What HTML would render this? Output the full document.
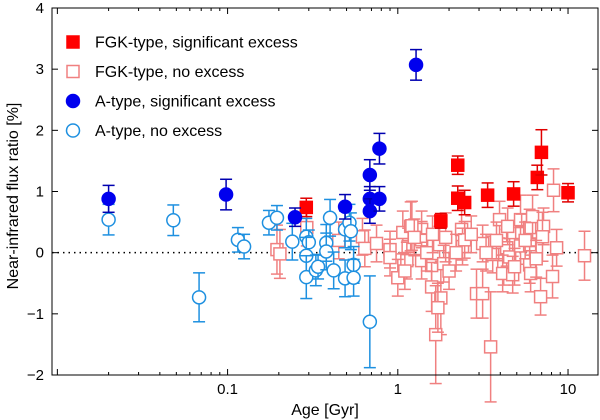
<!DOCTYPE html>
<html><head><meta charset="utf-8"><style>
body{margin:0;background:#fff}
svg{display:block;font-family:"Liberation Sans","DejaVu Sans",sans-serif}
</style></head><body>
<svg id="chart" width="600" height="420"></svg>
<script>
// FGK no excess
const fgkNoAge=[1.07,1.15,1.13,1.19,1.38,1.38,1.38,1.58,1.58,1.76,1.79,1.67,1.86,1.91,2.37,2.40,2.47,2.90,3.15,3.15,3.51,3.61,3.96,4.19,4.36,4.54,4.13,4.73,4.42,5.26,5.34,5.26,4.85,5.95,5.95,5.95,6.03,6.19,6.90,7.18,7.08,8.57,8.11,8.22,12.5,0.195,0.203,0.292,0.62,0.64,0.45,0.90,0.90,1.0,1.21,1.48,1.72,1.25,1.6,2.0,2.7,3.3,3.8,5.6,6.5,2.2,1.1,0.75];
const fgkNoVal=[0.33,0.10,-0.13,0.43,0.38,0.21,-0.13,-0.21,-0.56,0.13,-0.74,-1.34,-0.18,0.25,0.38,0.10,0.21,-0.67,-0.67,0.15,-1.54,-0.03,0.54,-0.23,0.08,-0.07,-0.34,-0.36,0.43,0.54,0.33,0.11,-0.23,0.13,0.41,-0.20,-0.34,0.59,-0.72,0.43,0.26,0.08,-0.39,1.02,-0.05,0.05,-0.02,0.41,0.26,0.07,0.20,0.05,-0.08,-0.41,0.44,0.0,-0.90,0.25,0.3,-0.3,0.3,0.0,0.2,0.2,-0.1,0.0,-0.3,0.15];
const fgkNoErr=[0.35,0.3,0.3,0.4,0.3,0.3,0.3,0.3,0.4,0.3,0.6,0.8,0.3,0.4,0.5,0.3,0.3,0.4,0.4,0.3,0.9,0.3,0.3,0.3,0.3,0.3,0.3,0.3,0.3,0.4,0.3,0.3,0.3,0.3,0.3,0.3,0.3,0.35,0.3,0.3,0.4,0.3,0.35,0.35,0.4,0.4,0.4,0.3,0.3,0.3,0.3,0.3,0.3,0.3,0.4,0.3,0.4,0.3,0.3,0.3,0.3,0.3,0.3,0.3,0.3,0.3,0.3,0.3];
// FGK significant
const fgkSigAge=[0.29,1.79,2.25,2.25,2.47,3.37,4.79,6.6,6.98,10.0];
const fgkSigVal=[0.74,0.52,1.43,0.89,0.82,0.94,0.96,1.23,1.64,0.98];
const fgkSigErr=[0.15,0.12,0.15,0.2,0.2,0.2,0.2,0.2,0.37,0.15];
// A-type no excess
const aNoAge=[0.020,0.048,0.068,0.115,0.125,0.175,0.195,0.24,0.29,0.30,0.29,0.29,0.33,0.34,0.38,0.38,0.40,0.42,0.49,0.52,0.49,0.55,0.55,0.685,0.53];
const aNoVal=[0.54,0.53,-0.73,0.21,0.10,0.49,0.57,0.18,0.26,0.17,-0.05,-0.40,-0.29,-0.23,0.16,0.02,0.57,-0.29,0.38,0.49,-0.42,-0.20,-0.41,-1.13,0.35];
const aNoErr=[0.25,0.25,0.4,0.2,0.2,0.2,0.2,0.3,0.3,0.2,0.3,0.35,0.25,0.2,0.3,0.3,0.3,0.3,0.3,0.3,0.3,0.3,0.3,0.75,0.3];
// A-type significant
const aSigAge=[0.020,0.098,0.249,0.49,0.685,0.685,0.685,0.78,0.78,1.28];
const aSigVal=[0.88,0.95,0.58,0.75,0.88,1.27,0.68,0.88,1.70,3.07];
const aSigErr=[0.22,0.25,0.15,0.2,0.2,0.25,0.2,0.2,0.25,0.25];
const yTicks=[-2,-1,0,1,2,3,4];
const xTicks=[0.1,1,10];
const xTickLabels=["0.1","1","10"];

const NS="http://www.w3.org/2000/svg";
const svg=document.getElementById('chart');
const L=52,R=598,T=8,B=375;
const xMin=Math.log10(0.0093),xMax=Math.log10(15);
function X(a){return L+(Math.log10(a)-xMin)/(xMax-xMin)*(R-L);}
function Y(v){return B-(v+2)/6*(B-T);}
function mk(tag,attrs,parent){const e=document.createElementNS(NS,tag);for(const k in attrs)e.setAttribute(k,attrs[k]);(parent||svg).appendChild(e);return e;}

const zero=mk('line',{x1:L,x2:R,y1:Y(0),y2:Y(0),stroke:'#000','stroke-dasharray':'1.5,4','stroke-width':1.5});



function errbar(g,x,y,e,col){
  mk('line',{x1:x,x2:x,y1:Y(y-e),y2:Y(y+e),stroke:col,'stroke-width':1.5},g);
  mk('line',{x1:x-6,x2:x+6,y1:Y(y-e),y2:Y(y-e),stroke:col,'stroke-width':1.5},g);
  mk('line',{x1:x-6,x2:x+6,y1:Y(y+e),y2:Y(y+e),stroke:col,'stroke-width':1.5},g);
}
function series(name,ages,vals,errs,col,ecol,shape,fill){
  const g=mk('g',{});
  
  
  for(let i=0;i<ages.length;i++){
    const x=X(ages[i]),y=vals[i];
    errbar(g,x,y,errs[i],ecol);
    let m;
    if(shape==='sq') m=mk('rect',{x:x-6,y:Y(y)-6,width:12,height:12,fill:fill,stroke:col,'stroke-width':1.5},g);
    else m=mk('circle',{cx:x,cy:Y(y),r:6.5,fill:fill,stroke:col,'stroke-width':1.5},g);
    
    
  }
}
series('fgk-no-excess',fgkNoAge,fgkNoVal,fgkNoErr,'#f08080','#f08080','sq','#fff');
series('a-no-excess',aNoAge,aNoVal,aNoErr,'#1e90e0','#1e90e0','c','#fff');
series('fgk-significant',fgkSigAge,fgkSigVal,fgkSigErr,'#ff0000','#e00000','sq','#ff0000');
series('a-significant',aSigAge,aSigVal,aSigErr,'#0000ee','#0000b0','c','#0000ee');

const fr=mk('rect',{x:L,y:T,width:R-L,height:B-T,fill:'none',stroke:'#000','stroke-width':1});



yTicks.forEach(v=>{
  const y=Y(v);
  mk('line',{x1:L,x2:L+6,y1:y,y2:y,stroke:'#000'});
  mk('line',{x1:R,x2:R-6,y1:y,y2:y,stroke:'#000'});
  const t=mk('text',{x:L-8,y:y+5,'text-anchor':'end','font-size':15});
  t.textContent=String(v).replace('-','\u2212');
  
  
});
for(let d=-2;d<=1;d++)for(let k=1;k<10;k++){
  const a=k*Math.pow(10,d); if(a<0.0093||a>15)continue;
  const x=X(a),len=k===1?6:3;
  mk('line',{x1:x,x2:x,y1:B,y2:B-len,stroke:'#000'});
  mk('line',{x1:x,x2:x,y1:T,y2:T+len,stroke:'#000'});
}
xTicks.forEach((a,i)=>{
  const t=mk('text',{x:X(a),y:B+19,'text-anchor':'middle','font-size':15});
  t.textContent=xTickLabels[i];
  
  
});
const xt=mk('text',{x:325,y:415,'text-anchor':'middle','font-size':16});
xt.textContent='Age [Gyr]';


const yt=mk('text',{x:0,y:0,'text-anchor':'middle','font-size':16,transform:'translate(18,196) rotate(-90)'});
yt.textContent='Near-infrared flux ratio [%]';



const leg=[['FGK-type, significant excess','sq','#ff0000','#ff0000'],['FGK-type, no excess','sq','#f08080','#fff'],['A-type, significant excess','c','#0000ee','#0000ee'],['A-type, no excess','c','#1e90e0','#fff']];
leg.forEach((l,i)=>{
  const g=mk('g',{});
  
  
  const y=42+i*29.5;
  if(l[1]==='sq') mk('rect',{x:67,y:y-6,width:12,height:12,fill:l[3],stroke:l[2],'stroke-width':1.5},g);
  else mk('circle',{cx:73,cy:y,r:6.5,fill:l[3],stroke:l[2],'stroke-width':1.5},g);
  const t=mk('text',{x:95,y:y+5.5,'font-size':16},g);
  t.textContent=l[0];
});
</script>
</body></html>
